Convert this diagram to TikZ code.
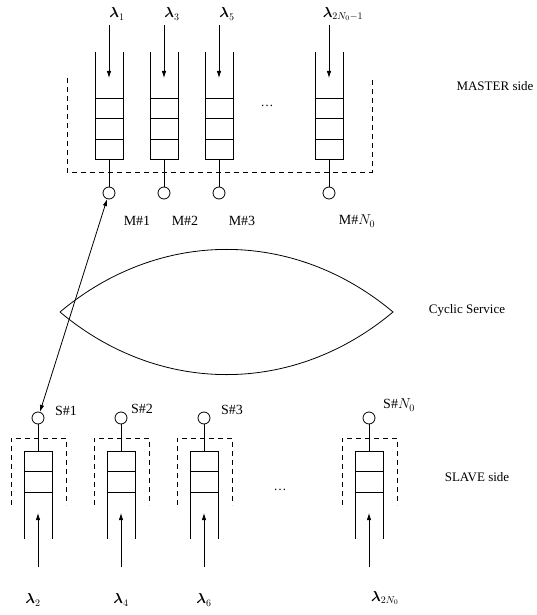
\documentclass[tikz,border=0pt]{standalone}
\usepackage{fontspec}
\usepackage{amsmath,bm}
\setmainfont{Liberation Serif}
\usetikzlibrary{arrows.meta,positioning}

\begin{document}
\begin{tikzpicture}[x=1pt,y=-1pt,line width=0.8pt,
    font=\fontsize{13}{15}\selectfont,
    srv/.style={draw,circle,minimum size=12pt,inner sep=0pt},
    tag/.style={font=\fontsize{14}{16}\selectfont},
    arr/.style={-{Latex[length=7pt,width=4.5pt]}},
    frame/.style={dash pattern=on 5pt off 4pt}]
  \useasboundingbox (0,0) rectangle (536,615);

  % MASTER side queues
  \foreach \x/\n in {109/1,164/2,219/3,329/4} {
    \draw (\x-14,52) -- (\x-14,159) -- (\x+14,159) -- (\x+14,52);
    \draw (\x-14,98) -- (\x+14,98) (\x-14,118) -- (\x+14,118) (\x-14,139) -- (\x+14,139);
    \node[srv] (m\n) at (\x,193) {};
    \coordinate (mq\n) at (\x,159);
    \coordinate (min\n) at (\x,25);
    \coordinate (mtop\n) at (\x,78);
    \draw (mq\n) -- (m\n);
    \draw[arr] (min\n) -- (mtop\n);
  }
  \draw[frame] (67,78) -- (67,172) -- (372,172) -- (372,78);
  \node (dotm) at (267,106) {\dots};

  \node[tag] (lm1) at (117,14) {$\bm{\lambda}_1$};
  \node[tag] (lm3) at (172,14) {$\bm{\lambda}_3$};
  \node[tag] (lm5) at (227,14) {$\bm{\lambda}_5$};
  \node[tag] (lmn) at (343,14) {$\bm{\lambda}_{2N_0-1}$};
  \node[tag] (tm1) at (137,221) {M\#1};
  \node[tag] (tm2) at (185,221) {M\#2};
  \node[tag] (tm3) at (242,221) {M\#3};
  \node[tag] (tmn) at (357,221) {M\#$N_0$};
  \node (master) at (495,86) {MASTER side};

  % cyclic service
  \coordinate (lensL) at (60,312);
  \coordinate (lensR) at (393,312);
  \draw (lensL) to[bend left=40] (lensR) to[bend left=40] (lensL);
  \node (cyc) at (467,310) {Cyclic Service};

  % SLAVE side queues
  \foreach \x/\n in {38/1,121/2,204/3,369/4} {
    \draw (\x-14,539) -- (\x-14,451) -- (\x+14,451) -- (\x+14,539);
    \draw (\x-14,471) -- (\x+14,471) (\x-14,492) -- (\x+14,492);
    \draw[frame] (\x-27,505) -- (\x-27,438) -- (\x+28,438) -- (\x+28,505);
    \node[srv] (s\n) at (\x,418) {};
    \coordinate (sq\n) at (\x,451);
    \coordinate (sin\n) at (\x,567);
    \coordinate (sbot\n) at (\x,513);
    \draw (s\n) -- (sq\n);
    \draw[arr] (sin\n) -- (sbot\n);
  }
  \node (dots) at (280,490) {\dots};

  \node[tag] (ts1) at (66,411) {S\#1};
  \node[tag] (ts2) at (142,409) {S\#2};
  \node[tag] (ts3) at (232,410) {S\#3};
  \node[tag] (tsn) at (399,405) {S\#$N_0$};
  \node[tag] (ls2) at (33,600) {$\bm{\lambda}_2$};
  \node[tag] (ls4) at (121,600) {$\bm{\lambda}_4$};
  \node[tag] (ls6) at (204,600) {$\bm{\lambda}_6$};
  \node[tag] (lsn) at (385,598) {$\bm{\lambda}_{2N_0}$};
  \node (slave) at (477,477) {SLAVE side};

  % polling link
  \draw[{Latex[length=7pt,width=4.5pt]}-{Latex[length=7pt,width=4.5pt]}] (m1) -- (s1);
\end{tikzpicture}
\end{document}
